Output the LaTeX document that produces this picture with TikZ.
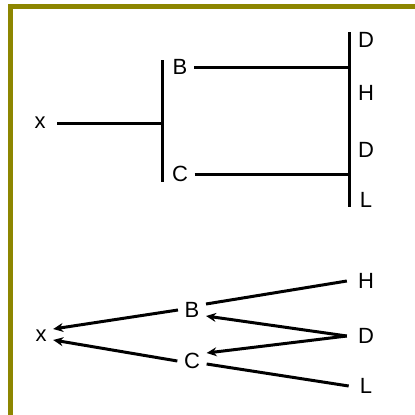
\documentclass[tikz,border=0pt]{standalone}
\usepackage{fontspec}
\setmainfont{Liberation Sans}
\usetikzlibrary{arrows.meta}
\begin{document}
\begin{tikzpicture}[x=1pt,y=-1pt,
  lbl/.style={inner sep=0pt,font=\fontsize{22}{26}\selectfont},
  mid/.style={lbl,inner xsep=6.5pt},
  leaf/.style={lbl,inner xsep=11pt},
  wire/.style={line width=3pt},
  arr/.style={line width=3pt,-{Stealth[length=10pt,width=9pt]}},
  frame/.style={draw=olive,line width=5.5pt}]
\useasboundingbox (0,0) rectangle (415,415);
\draw [frame] (10.5,440) |- (440,6.5);
% top tree
\node (tx) at (40,123) [lbl,inner xsep=11.5pt]{x};
\node (tB) at (180,67) [mid]{B};
\node (tC) at (180,174) [mid]{C};
\node (tD1) at (366,40) [lbl]{D};
\node (tH) at (366,93) [lbl]{H};
\node (tD2) at (366,150) [lbl]{D};
\node (tL) at (366,200) [lbl]{L};
\coordinate (tj1) at (162,123);
\coordinate (tj1a) at (162,60);
\coordinate (tj1b) at (162,182);
\coordinate (tj2a) at (349,32);
\coordinate (tj2b) at (349,207);
\draw [wire] (tj1a) -- (tj1b);
\draw [wire] (tj2a) -- (tj2b);
\draw [wire] (tx) -- (tj1);
\draw [wire] (tB) -- (tB -| tj2a);
\draw [wire] (tC) -- (tC -| tj2a);
% bottom tree
\node (bx) at (41,336) [mid]{x};
\node (bB) at (192,310) [mid]{B};
\node (bC) at (192,361) [mid]{C};
\node (bH) at (366,281) [leaf]{H};
\node (bD) at (366,336) [leaf]{D};
\node (bL) at (366,386) [leaf]{L};
\draw [wire] ([yshift=6pt]bB.east) -- (bH.west);
\draw [wire] ([yshift=-3pt]bC.east) -- (bL.west);
\draw [arr] (bD.west) -- ([yshift=-6pt]bB.east);
\draw [arr] (bD.west) -- ([yshift=8pt]bC.east);
\draw [arr] (bB.west) -- ([yshift=7pt]bx.east);
\draw [arr] (bC.west) -- ([yshift=-4pt]bx.east);
\end{tikzpicture}
\end{document}
